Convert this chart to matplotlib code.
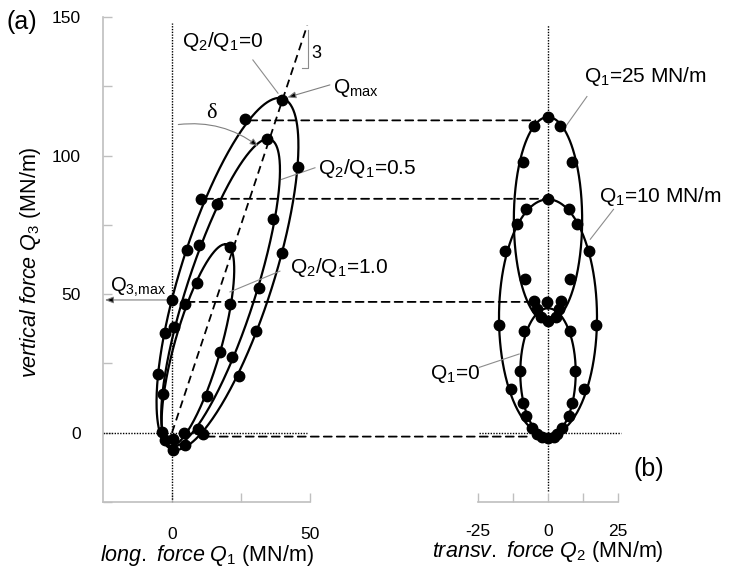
import numpy as np
import matplotlib
matplotlib.use('Agg')
import matplotlib.pyplot as plt
from matplotlib.patches import ConnectionPatch

plt.rcParams['font.family'] = ['Liberation Sans', 'DejaVu Sans']
plt.rcParams['mathtext.fontset'] = 'custom'
plt.rcParams['mathtext.rm'] = 'Liberation Sans'
plt.rcParams['mathtext.it'] = 'Liberation Sans:italic'
plt.rcParams['mathtext.default'] = 'regular'
plt.rcParams['axes.unicode_minus'] = False

# ---------------- data ----------------
# panel (a): envelopes in the Q1-Q3 plane for Q2/Q1 = 0, 0.5, 1.0
ratio_labels = ['0', '0.5', '1.0']
env_q1c = [20.1, 17.6, 9.4]       # centre Q1
env_q3c = [57.3, 50.5, 31.5]      # centre Q3
env_h = [63.5, 55.5, 36.5]        # half height (Q3)
env_w = [17.6, 13.0, 8.7]         # half width (Q1)
env_k = [0.295, 0.309, 0.27]      # shear (dQ1/dQ3 of chord mid-points)

a_q1 = [39.7, 26.4, 34.3, 45.7, 10.4, 16.4, 36.7, 5.3, 9.7, 21.0, 40.0,
        8.9, 31.4, 0.1, 4.7, 21.0, -2.5, 0.8, 30.4, 17.4, 21.8, -5.0, 24.4,
        -3.2, 12.8, -3.7, -2.5, 0.5, 0.25, 4.7, 4.3, 9.5, 11.3]
a_q3 = [120.1, 113.3, 106.0, 95.8, 84.2, 82.4, 77.2, 65.9, 67.7, 67.0, 65.0,
        54.2, 52.1, 47.8, 46.4, 46.4, 36.0, 38.2, 36.8, 29.0, 27.2, 21.2, 20.6,
        14.0, 13.4, 0.4, -2.8, -2.2, -6.4, -4.6, -0.2, 1.4, -0.6]

# panel (b): envelopes in the Q2-Q3 plane for Q1 = 25, 10, 0 MN/m
q1_levels = ['25 MN/m', '10 MN/m', '0']
envb_q3c = [76.9, 41.6, 21.7]
envb_h = [37.0, 42.6, 23.2]
envb_w = [12.2, 17.5, 9.9]

b_q2 = [0.0, -5.0, 4.3, -9.1, 8.6, -8.2, 7.7, -5.0, 4.5, -3.8, 3.9, -2.6, 2.7, 0.1,
        -0.2,
        0.0, -7.9, 7.4, -10.9, 10.2, -15.2, 14.8, -17.6, 17.1, -13.2, 13.0,
        -8.5, 8.0, -10.0, 9.8, -8.9, 8.4, -7.9, 7.4,
        -5.6, 5.1, -3.8, 3.3, -2.0, 0.0, 2.1]
b_q3 = [113.9, 110.8, 110.8, 97.6, 97.6, 55.4, 55.4, 47.6, 47.6, 44.6, 44.6, 41.6, 41.6, 40.4,
        47.2,
        84.2, 80.8, 80.8, 75.2, 75.2, 65.6, 65.6, 38.8, 38.8, 15.8, 15.8,
        36.8, 36.8, 22.4, 22.4, 10.7, 10.7, 5.9, 5.9,
        1.7, 1.7, -0.4, -0.4, -1.5, -1.9, -1.5]

slope = 3.0
q3_max = 47.9
link_q3 = [112.7, 84.4, 47.2, -1.4]
link_from_q1 = [28.0, 12.0, 5.3, 12.6]
link_to_q2 = [-4.5, -1.5, -7.0, -6.1]


def envelope(cx, cy, h, w, k, n=400):
    t = np.linspace(0, 2 * np.pi, n)
    return cx + k * h * np.cos(t) + w * np.sin(t), cy + h * np.cos(t)


W, H = 731, 571
fig = plt.figure(figsize=(W / 100, H / 100), dpi=100)
axA = fig.add_axes([103 / W, 69 / H, 207 / W, 485 / H])
axB = fig.add_axes([478 / W, 69 / H, 140 / W, 485 / H])

spine_col = '0.75'
for ax in (axA, axB):
    ax.set_ylim(-25, 150)
    ax.patch.set_alpha(0)
    for s in ax.spines.values():
        s.set_color(spine_col)
        s.set_linewidth(1.2)
    ax.spines['top'].set_visible(False)
    ax.spines['right'].set_visible(False)
    ax.tick_params(which='both', direction='in', length=6.5, width=1.0,
                   color=spine_col, labelsize=12.5, pad=18)

axA.set_xlim(-25, 50)
axB.set_xlim(-25, 25)
axA.set_xticks([0, 50])
axA.set_xticks([25], minor=True)
axA.set_yticks([0, 50, 100, 150])
axA.set_yticks([-25, 25, 75, 125], minor=True)
axA.tick_params(axis='y', pad=16)
axB.spines['left'].set_visible(False)
axB.set_yticks([])
axB.set_xticks([-25, 0, 25])
axB.set_xticks([-12.5, 12.5], minor=True)
axB.tick_params(axis='x', pad=15.5)

dot_style = dict(linestyle=(0, (1, 1)), color='black', lw=1.0)
dash_style = dict(linestyle=(0, (4.4, 2.8)), color='black', lw=1.3)

# ---- panel (a) ----
axA.plot([0, 0], [-25, 148], clip_on=False, **dot_style)
axA.plot([-25, 49], [0, 0], clip_on=False, **dot_style)
axA.plot([0, 147 / slope], [0, 147], **dash_style)
for cx, cy, hh, ww, kk in zip(env_q1c, env_q3c, env_h, env_w, env_k):
    x, y = envelope(cx, cy, hh, ww, kk)
    axA.plot(x, y, color='black', lw=1.6)
axA.plot(a_q1, a_q3, 'o', color='black', ms=7.5, zorder=5, clip_on=False)

# ---- panel (b) ----
axB.plot([0, 0], [-21, 147], clip_on=False, **dot_style)
axB.plot([-24.5, 26], [0, 0], clip_on=False, **dot_style)
for cy, hh, ww in zip(envb_q3c, envb_h, envb_w):
    x, y = envelope(0.0, cy, hh, ww, 0.0)
    axB.plot(x, y, color='black', lw=1.6)
axB.plot(b_q2, b_q3, 'o', color='black', ms=7.5, zorder=5, clip_on=False)

# ---- dashed links between panels ----
for q3, x1, x2 in zip(link_q3, link_from_q1, link_to_q2):
    con = ConnectionPatch(xyA=(x1, q3), coordsA=axA.transData,
                          xyB=(x2, q3), coordsB=axB.transData,
                          linestyle=(0, (4.4, 2.8)), lw=1.3, color='black')
    fig.add_artist(con)

# ---- labels ----
axA.set_xlabel(r'$\mathit{long.\ force\ Q}_{1}$ (MN/m)', fontsize=15.5)
axA.xaxis.set_label_coords(0.5, (502 - 555) / 485)
axA.xaxis.label.set_va('center')
axB.set_xlabel(r'$\mathit{transv.\ force\ Q}_{2}$ (MN/m)', fontsize=15.5)
axB.xaxis.set_label_coords(0.5, (502 - 552) / 485)
axB.xaxis.label.set_va('center')
axA.set_ylabel(r'$\mathit{vertical\ force\ Q}_{3}$ (MN/m)', fontsize=15.5)
axA.yaxis.set_label_coords((30 - 103) / 207, 0.495)
axA.yaxis.label.set_va('center')

fig.text(6 / W, 1 - 22 / H, '(a)', fontsize=18, va='center', ha='left')
axB.text(30.5, -13, '(b)', fontsize=18, va='center', ha='left')

lead = dict(color='0.55', lw=0.8, clip_on=False)
fs = 15
# annotations panel (a)
axA.text(3.6, 141, r'$Q_2/Q_1$=' + ratio_labels[0], fontsize=fs, va='center', ha='left')
axA.plot([29.3, 38.4], [134.5, 122.5], **lead)
axA.plot([47.0, 49.4, 49.4], [131.5, 131.5, 145.3], **lead)
axA.text(52.4, 137, '3', fontsize=13, va='center', ha='center')
axA.text(58.3, 124.5, r'$Q_{max}$', fontsize=fs, va='center', ha='left')
axA.annotate('', xy=(41.8, 121.0), xytext=(57.2, 125.5),
             arrowprops=dict(arrowstyle='-|>,head_length=0.5,head_width=0.2',
                             ec='0.5', fc='black', lw=0.8, shrinkA=0, shrinkB=0),
             annotation_clip=False)
axA.text(14.4, 115.1, 'δ', fontsize=16, va='center', ha='center',
         family=['Liberation Serif', 'DejaVu Serif'])
axA.annotate('', xy=(31.3, 103.3), xytext=(2.3, 111.2),
             arrowprops=dict(arrowstyle='-|>,head_length=0.5,head_width=0.2',
                             connectionstyle='arc3,rad=-0.2',
                             ec='0.5', fc='black', lw=0.8, shrinkA=0, shrinkB=0),
             annotation_clip=False)
axA.text(52.9, 95.3, r'$Q_2/Q_1$=' + ratio_labels[1], fontsize=fs, va='center', ha='left')
axA.plot([51.8, 39.7], [95.6, 91.4], **lead)
axA.text(42.8, 59.7, r'$Q_2/Q_1$=' + ratio_labels[2], fontsize=fs, va='center', ha='left')
axA.plot([39.1, 21.0], [58.3, 50.8], **lead)
axA.text(-22.5, 52.5, r'$Q_{3{,}max}$', fontsize=14.5, va='center', ha='left')
axA.annotate('', xy=(-24.3, q3_max), xytext=(0, q3_max),
             arrowprops=dict(arrowstyle='-|>,head_length=0.5,head_width=0.2',
                             ec='0.5', fc='black', lw=0.8, shrinkA=0, shrinkB=0),
             annotation_clip=False)

# annotations panel (b)
axB.text(12.8, 128.4, r'$Q_1$=' + q1_levels[0], fontsize=fs, va='center', ha='left')
axB.plot([13.9, 6.3], [121.3, 110.5], **lead)
axB.text(18.1, 85.3, r'$Q_1$=' + q1_levels[1], fontsize=fs, va='center', ha='left')
axB.plot([23.4, 15.1], [80.6, 69.8], **lead)
axB.text(-42.2, 21.2, r'$Q_1$=' + q1_levels[2], fontsize=fs, va='center', ha='left')
axB.plot([-24.5, -10.3], [23.6, 28.4], **lead)

fig.savefig('out.png', dpi=100)
